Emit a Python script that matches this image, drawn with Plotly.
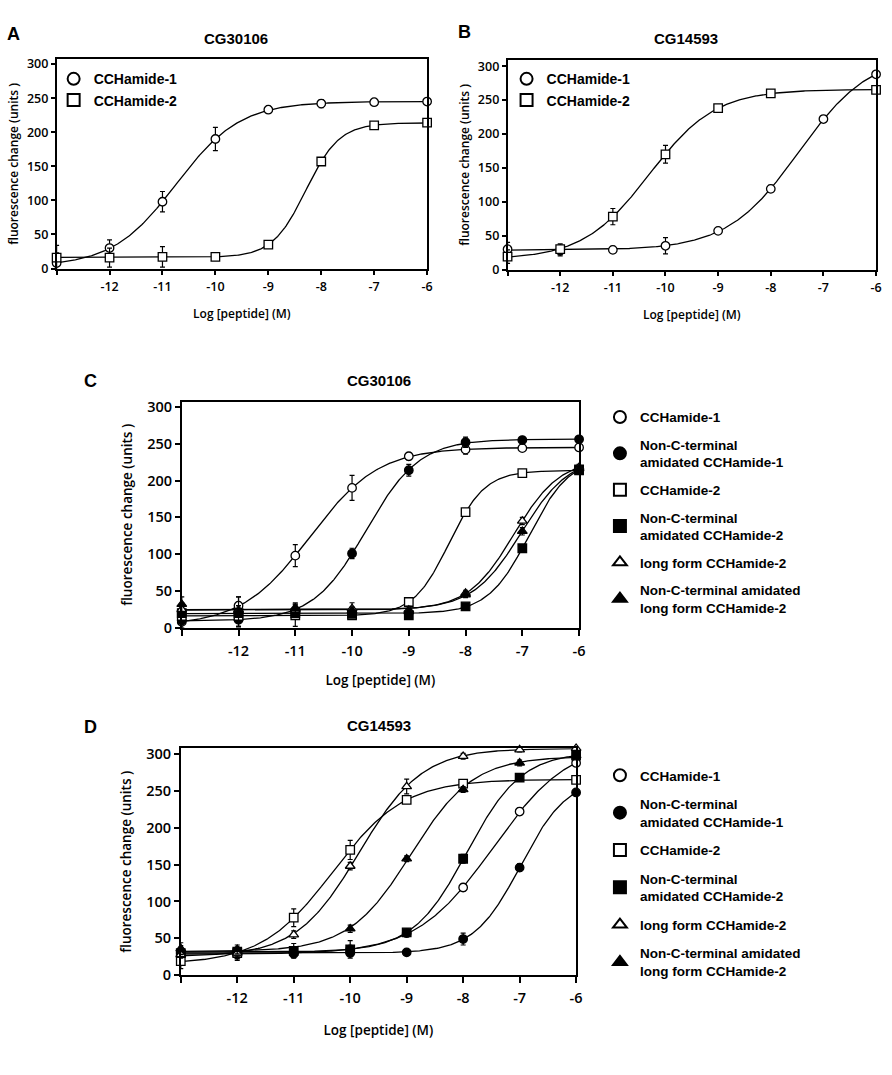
import numpy as np
import plotly.graph_objects as go

log_conc = [-13, -12, -11, -10, -9, -8, -7, -6]
tick_text = ["", "-12", "-11", "-10", "-9", "-8", "-7", "-6"]
y_ticks = [0, 50, 100, 150, 200, 250, 300]

names_ab = ["CCHamide-1", "CCHamide-2"]
names_cd = ["CCHamide-1", "Non-C-terminal<br>amidated CCHamide-1", "CCHamide-2",
            "Non-C-terminal<br>amidated CCHamide-2", "long form CCHamide-2",
            "Non-C-terminal amidated<br>long form CCHamide-2"]

# Panel A : CG30106
a_cch1 = [8, 30, 98, 190, 233, 242, 244, 245]
a_cch1_err = [15, 12, 15, 17, 5, 6, 4, 3]
a_cch2 = [16, 16, 17, 17, 35, 157, 210, 214]
a_cch2_err = [18, 14, 15, 5, 3, 3, 4, 3]

# Panel B : CG14593
b_cch1 = [30, 28, 29, 35, 57, 119, 222, 288]
b_cch1_err = [10, 8, 5, 12, 3, 5, 5, 3]
b_cch2 = [19, 30, 78, 170, 238, 260, None, 265]
b_cch2_err = [10, 8, 12, 13, 4, 5, 0, 3]

# Panel C : CG30106
c_cch1 = [8, 30, 98, 190, 233, 242, 244, 245]
c_cch1_err = [15, 12, 15, 17, 5, 6, 4, 3]
c_nc_cch1 = [10, 11, 24, 101, 214, 252, 255, 256]
c_nc_cch1_err = [10, 10, 8, 7, 8, 7, 3, 3]
c_cch2 = [16, 16, 17, 17, 35, 157, 210, 214]
c_cch2_err = [18, 14, 15, 5, 3, 3, 4, 3]
c_nc_cch2 = [20, 20, 20, 19, 17, 29, 108, 215]
c_nc_cch2_err = [5, 5, 5, 4, 3, 3, 3, 3]
c_lf_cch2 = [25, 24, 24, 26, 24, 47, 145, 218]
c_lf_cch2_err = [8, 6, 6, 8, 5, 4, 5, 4]
c_nclf_cch2 = [32, 22, 26, 23, 22, 45, 131, 216]
c_nclf_cch2_err = [10, 20, 8, 5, 4, 4, 5, 3]

# Panel D : CG14593
d_cch1 = [30, 28, 29, 35, 57, 119, 222, 288]
d_cch1_err = [10, 8, 5, 12, 3, 5, 5, 3]
d_nc_cch1 = [30, 31, 30, 30, 31, 49, 146, 248]
d_nc_cch1_err = [5, 5, 5, 5, 3, 8, 5, 4]
d_cch2 = [19, 30, 78, 170, 238, 260, None, 265]
d_cch2_err = [10, 8, 12, 13, 4, 5, 0, 3]
d_nc_cch2 = [30, 32, 33, 35, 58, 158, 268, 298]
d_nc_cch2_err = [5, 5, 5, 5, 4, 6, 5, 4]
d_lf_cch2 = [28, 30, 55, 148, 256, 297, 306, 308]
d_lf_cch2_err = [5, 5, 5, 5, 10, 4, 3, 3]
d_nclf_cch2 = [36, 35, 33, 63, 158, 252, 288, 298]
d_nclf_cch2_err = [8, 6, 10, 5, 4, 4, 4, 4]

symbols_ab = [("circle", "white"), ("square", "white")]
symbols_cd = [("circle", "white"), ("circle", "black"), ("square", "white"),
              ("square", "black"), ("triangle-up", "white"), ("triangle-up", "black")]


def fit_4pl(x, y):
    """Least-squares 4-parameter logistic fit (grid over EC50/Hill, linear in bottom/top)."""
    x = np.asarray(x, float)
    y = np.array([np.nan if v is None else v for v in y], float)
    m = ~np.isnan(y)
    x, y = x[m], y[m]
    ec = np.arange(-13.5, -4.5, 0.01)
    hl = np.arange(0.3, 3.0, 0.01)
    E, Hh = np.meshgrid(ec, hl, indexing="ij")
    s = 1.0 / (1.0 + 10 ** ((E[..., None] - x) * Hh[..., None]))
    u = 1.0 - s
    uu = (u * u).sum(-1); uv = (u * s).sum(-1); vv = (s * s).sum(-1)
    uy = (u * y).sum(-1); vy = (s * y).sum(-1)
    det = uu * vv - uv ** 2
    b = (vv * uy - uv * vy) / det
    t = (uu * vy - uv * uy) / det
    res = ((b[..., None] * u + t[..., None] * s - y) ** 2).sum(-1)
    res = np.where(np.isfinite(res), res, np.inf)
    i = np.unravel_index(np.argmin(res), res.shape)
    return b[i], t[i], E[i], Hh[i]


xs = np.linspace(-13, -6, 400)


def curve(p):
    b, t, e, h = p
    return b + (t - b) / (1 + 10 ** ((e - xs) * h))


fig = go.Figure()

panels = [
    ("x", "y", "legend", names_ab, symbols_ab,
     [(a_cch1, a_cch1_err), (a_cch2, a_cch2_err)]),
    ("x2", "y2", "legend2", names_ab, symbols_ab,
     [(b_cch1, b_cch1_err), (b_cch2, b_cch2_err)]),
    ("x3", "y3", "legend3", names_cd, symbols_cd,
     [(c_cch1, c_cch1_err), (c_nc_cch1, c_nc_cch1_err), (c_cch2, c_cch2_err),
      (c_nc_cch2, c_nc_cch2_err), (c_lf_cch2, c_lf_cch2_err), (c_nclf_cch2, c_nclf_cch2_err)]),
    ("x4", "y4", "legend4", names_cd, symbols_cd,
     [(d_cch1, d_cch1_err), (d_nc_cch1, d_nc_cch1_err), (d_cch2, d_cch2_err),
      (d_nc_cch2, d_nc_cch2_err), (d_lf_cch2, d_lf_cch2_err), (d_nclf_cch2, d_nclf_cch2_err)]),
]

for xa, ya, lg, names, syms, series in panels:
    # fitted curves first (drawn beneath markers)
    for vals, err in series:
        fig.add_trace(go.Scatter(x=xs, y=curve(fit_4pl(log_conc, vals)), mode="lines",
                                 line=dict(color="black", width=1.3), xaxis=xa, yaxis=ya,
                                 showlegend=False, hoverinfo="skip", cliponaxis=False))
    for k, (vals, err) in enumerate(series):
        sym, fill = syms[k]
        yv = [np.nan if v is None else v for v in vals]
        fig.add_trace(go.Scatter(
            x=log_conc, y=yv, mode="markers", name=names[k], legend=lg,
            legendgroup=f"{lg}_{k}", xaxis=xa, yaxis=ya, cliponaxis=False,
            marker=dict(symbol=sym, size=8.5, color=fill, line=dict(color="black", width=1.3)),
            error_y=dict(type="data", array=err, visible=True, color="black",
                         thickness=1.2, width=2.5)))

tick_font_ab = dict(family="Open Sans", size=12.5, color="black", weight=600)
tick_font_cd = dict(family="Open Sans", size=14.5, color="black", weight=600)
title_font_ab = dict(family="Open Sans", size=12, color="black", weight=600)
title_font_cd = dict(family="Open Sans", size=13.5, color="black", weight=600)

H = 1075.0
W = 892.0


def xaxis(dom, anchor, tf, ttf, standoff, tlen, tstand):
    return dict(domain=[dom[0] / W, dom[1] / W], anchor=anchor, range=[-13, -6],
                tickmode="array", tickvals=log_conc, ticktext=tick_text,
                ticks="outside", ticklen=tlen, tickwidth=1.5, tickcolor="black",
                ticklabelstandoff=tstand,
                showline=True, linewidth=1.5, linecolor="black", mirror=True,
                showgrid=False, zeroline=False, tickfont=tf,
                title=dict(text="Log [peptide] (M)", font=ttf, standoff=standoff))


def yaxis(dom, anchor, top, tf, ttf, standoff, tlen):
    return dict(domain=[1 - dom[1] / H, 1 - dom[0] / H], anchor=anchor, range=[0, top],
                tickmode="array", tickvals=y_ticks,
                ticks="outside", ticklen=tlen, tickwidth=1.5, tickcolor="black",
                showline=True, linewidth=1.5, linecolor="black", mirror=True,
                showgrid=False, zeroline=False, tickfont=tf,
                title=dict(text="fluorescence change (units )", font=ttf, standoff=standoff))


leg_font = dict(family="Liberation Sans", size=14, color="black", weight="bold")
leg_font_cd = dict(family="Liberation Sans", size=13.5, color="black", weight="bold")

fig.update_layout(
    width=892, height=1075, margin=dict(l=0, r=0, t=0, b=0),
    paper_bgcolor="white", plot_bgcolor="white",
    xaxis=xaxis((57, 430), "y", tick_font_ab, title_font_ab, 15, 5, 1),
    yaxis=yaxis((55, 267), "x", 307, tick_font_ab, title_font_ab, 6, 4),
    xaxis2=xaxis((511, 882), "y2", tick_font_ab, title_font_ab, 15, 5, 1),
    yaxis2=yaxis((56, 268), "x2", 308.7, tick_font_ab, title_font_ab, 6, 4),
    xaxis3=xaxis((183, 583), "y3", tick_font_cd, title_font_cd, 17, 6, 3),
    yaxis3=yaxis((402, 631), "x3", 307, tick_font_cd, title_font_cd, 12, 5),
    xaxis4=xaxis((182, 580), "y4", tick_font_cd, title_font_cd, 19, 6, 3),
    yaxis4=yaxis((753, 983), "x4", 308, tick_font_cd, title_font_cd, 12, 5),
    legend=dict(x=54 / W, y=1 - 59 / H, xanchor="left", yanchor="top", font=leg_font,
                bgcolor="rgba(0,0,0,0)", itemsizing="constant", tracegroupgap=0),
    legend2=dict(x=510 / W, y=1 - 59 / H, xanchor="left", yanchor="top", font=leg_font,
                 bgcolor="rgba(0,0,0,0)", itemsizing="constant", tracegroupgap=0),
    legend3=dict(x=604 / W, y=1 - 402 / H, xanchor="left", yanchor="top", font=leg_font_cd,
                 bgcolor="rgba(0,0,0,0)", itemsizing="constant", tracegroupgap=7),
    legend4=dict(x=604 / W, y=1 - 765 / H, xanchor="left", yanchor="top", font=leg_font_cd,
                 bgcolor="rgba(0,0,0,0)", itemsizing="constant", tracegroupgap=8),
)

ann_font = dict(family="Liberation Sans", size=15, color="black", weight="bold")
let_font = dict(family="Liberation Sans", size=18, color="black", weight="bold")
for txt, x, y, f in [("CG30106", 238, 34, ann_font), ("CG14593", 691, 34, ann_font),
                     ("CG30106", 382, 380, ann_font), ("CG14593", 382, 730, ann_font),
                     ("A", 14, 29, let_font), ("B", 468, 27, let_font),
                     ("C", 91, 381, let_font), ("D", 91, 732, let_font)]:
    fig.add_annotation(text=txt, x=x / W, y=1 - y / H, xref="paper", yref="paper",
                       showarrow=False, font=f, xanchor="center", yanchor="middle")

fig.write_html("out.html", config={"displayModeBar": False},
               post_script="document.body.style.margin='0';")
